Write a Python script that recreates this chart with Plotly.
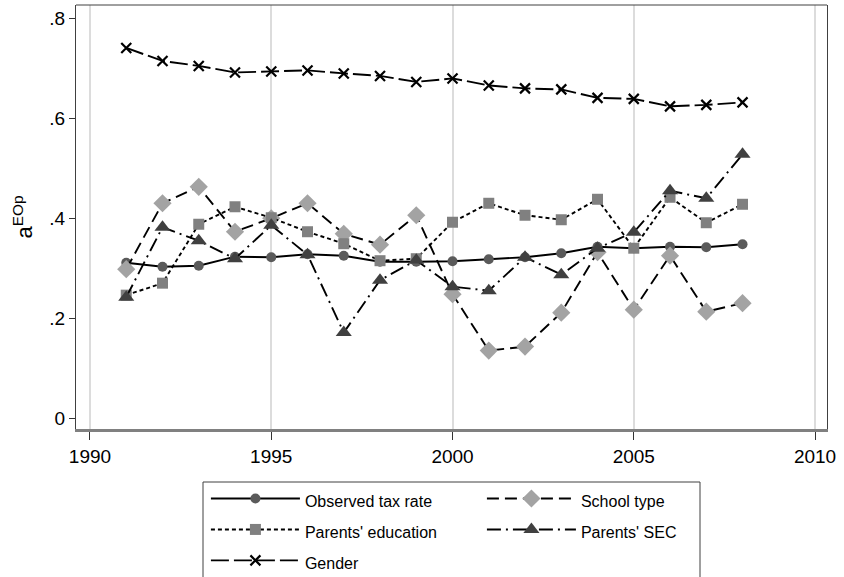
import plotly.graph_objects as go

years = list(range(1991, 2009))

observed_tax = [0.311, 0.303, 0.305, 0.323, 0.322, 0.328, 0.325, 0.313, 0.313, 0.314,
                0.318, 0.322, 0.330, 0.343, 0.340, 0.343, 0.342, 0.348]
school_type = [0.298, 0.430, 0.463, 0.373, 0.400, 0.430, 0.369, 0.347, 0.406, 0.248,
               0.135, 0.143, 0.211, 0.332, 0.217, 0.325, 0.213, 0.230]
parents_edu = [0.246, 0.270, 0.388, 0.423, 0.401, 0.373, 0.349, 0.315, 0.319, 0.392,
               0.430, 0.406, 0.397, 0.438, 0.340, 0.442, 0.391, 0.428]
parents_sec = [0.242, 0.382, 0.355, 0.319, 0.386, 0.327, 0.171, 0.276, 0.316, 0.263,
               0.255, 0.322, 0.287, 0.340, 0.372, 0.455, 0.440, 0.528]
gender = [0.741, 0.715, 0.705, 0.692, 0.694, 0.696, 0.690, 0.685, 0.673, 0.680,
          0.666, 0.660, 0.658, 0.641, 0.639, 0.624, 0.627, 0.632]

series_names = ["Observed tax rate", "School type", "Parents' education",
                "Parents' SEC", "Gender"]

x_ticks = [1990, 1995, 2000, 2005, 2010]
y_ticks = [0, 0.2, 0.4, 0.6, 0.8]
y_ticklabels = ["0", ".2", ".4", ".6", ".8"]

FONT = "Liberation Sans, Arial, sans-serif"

fig = go.Figure()

def add(name, y, dash, symbol, mcolor, msize, xmark=False):
    marker = dict(symbol=symbol, size=msize, color=mcolor)
    if xmark:
        marker = dict(symbol="x-thin", size=msize, color="black",
                      line=dict(color="black", width=2.2))
    fig.add_trace(go.Scatter(
        x=years, y=y, mode="lines+markers",
        name='<span style="font-size:16px">' + name + '</span>',
        line=dict(color="black", width=1.9, dash=dash),
        marker=marker,
    ))

add(series_names[0], observed_tax, "solid", "circle", "#5a5a5a", 10)
add(series_names[1], school_type, "12px,6px", "diamond", "#a3a3a3", 14)
add(series_names[2], parents_edu, "4px,3px", "square", "#808080", 11)
add(series_names[3], parents_sec, "14px,5px,2px,5px", "triangle-up", "#404040", 14)
add(series_names[4], gender, "18px,5px", "x-thin", "black", 10, xmark=True)

fig.update_layout(
    width=844, height=577,
    margin=dict(l=76, r=17, t=5, b=148, autoexpand=False),
    paper_bgcolor="white", plot_bgcolor="white",
    font=dict(family=FONT, color="black"),
    xaxis=dict(
        range=[1989.614, 2010.33], tickvals=x_ticks, automargin=False,
        tickfont=dict(size=19), ticks="outside", ticklen=8, tickcolor="#333",
        showgrid=True, gridcolor="#dcdcdc", gridwidth=1.5,
        showline=True, linecolor="#808080", linewidth=3,
        zeroline=False,
    ),
    yaxis=dict(
        range=[-0.022, 0.827], tickvals=y_ticks, ticktext=y_ticklabels,
        automargin=False,
        tickfont=dict(size=19), ticks="outside", ticklen=6, tickcolor="#333",
        showgrid=False, zeroline=False,
        showline=True, linecolor="#404040", linewidth=1, mirror=True,
        title=dict(text="a<sup>EOp</sup>", font=dict(size=22), standoff=10),
    ),
    legend=dict(
        orientation="h", x=0.173, xanchor="left", y=-0.1156, yanchor="top",
        bgcolor="rgba(0,0,0,0)", borderwidth=0,
        font=dict(size=21.5, family=FONT), itemwidth=89,
        entrywidth=172, traceorder="normal",
    ),
    showlegend=True,
)

# plot-region top border
fig.add_shape(type="line", xref="paper", yref="paper", x0=0, x1=1, y0=1, y1=1,
              line=dict(color="#404040", width=1))
# legend frame
fig.add_shape(type="rect", xref="paper", yref="paper", layer="below",
              x0=(203 - 76) / 751, x1=(700 - 76) / 751,
              y0=(429 - 600) / 424, y1=(429 - 482) / 424,
              line=dict(color="#404040", width=1), fillcolor="white")

fig.write_html("out.html",
               config={"displayModeBar": False},
               post_script="document.body.style.margin='0';document.body.style.padding='0';")
